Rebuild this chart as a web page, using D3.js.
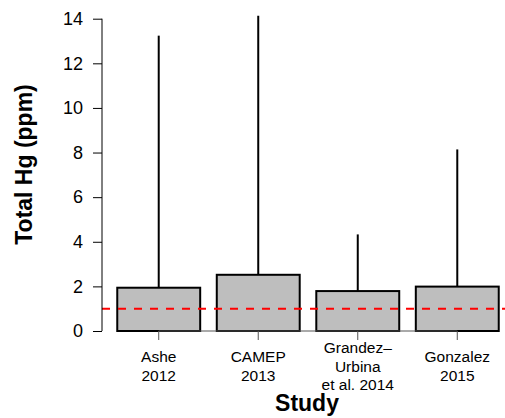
<!DOCTYPE html>
<html><head><meta charset="utf-8">
<script src="https://cdn.jsdelivr.net/npm/d3@7"></script>
<style>body{margin:0;background:#fff}svg{display:block;font-family:"Liberation Sans",Arial,sans-serif}</style>
</head><body><div id="chart"></div>
<script>
const studies = [["Ashe","2012"],["CAMEP","2013"],["Grandez\u2013","Urbina","et al. 2014"],["Gonzalez","2015"]];
const means = [1.94, 2.52, 1.79, 1.99];
const uppers = [13.24, 14.13, 4.33, 8.14];
const yTicks = [0,2,4,6,8,10,12,14];
const refLevel = 1;

const W=505,H=418;
const svg=d3.select("#chart").append("svg").attr("width",W).attr("height",H);
const x=d3.scaleLinear().domain([0.016,4.984]).range([102,514]);
const y=d3.scaleLinear().domain([0,14]).range([331,18.7]);
const left=i=>0.2+1.2*i, mid=i=>0.7+1.2*i;

// error lines
svg.selectAll("line.err").data(means).enter().append("line")
 .attr("x1",(d,i)=>x(mid(i))).attr("x2",(d,i)=>x(mid(i)))
 .attr("y1",d=>y(d)).attr("y2",(d,i)=>y(uppers[i]))
 .attr("stroke","#000").attr("stroke-width",2);
// bars
svg.selectAll("rect.bar").data(means).enter().append("rect")
 .attr("x",(d,i)=>x(left(i))).attr("width",(d,i)=>x(left(i)+1)-x(left(i)))
 .attr("y",d=>y(d)).attr("height",d=>y(0)-y(d))
 .attr("fill","#bebebe").attr("stroke","#000").attr("stroke-width",2);
// reference line
svg.append("line").attr("x1",x(0.016)).attr("x2",W).attr("y1",y(refLevel)).attr("y2",y(refLevel))
 .attr("stroke","#ff0000").attr("stroke-width",2).attr("stroke-dasharray","8,8");

// y axis
const ya=svg.append("g").attr("transform","translate(102,0)")
 .call(d3.axisLeft(y).tickValues(yTicks).tickSize(9).tickPadding(10).tickFormat(d3.format("d")));
ya.select(".domain").attr("stroke","#000").attr("stroke-width",1).attr("d",`M0,${y(0)}V${y(14)}`);
ya.selectAll(".tick line").attr("stroke","#000");
ya.selectAll(".tick text").attr("font-size",18).attr("fill","#000").attr("font-family","Liberation Sans, Arial, sans-serif");

// x axis
const xa=svg.append("g");
xa.append("line").attr("x1",x(mid(0))).attr("x2",x(mid(3))).attr("y1",331).attr("y2",331).attr("stroke","#555").attr("stroke-width",1);
xa.selectAll("line.t").data(studies).enter().append("line")
 .attr("x1",(d,i)=>x(mid(i))).attr("x2",(d,i)=>x(mid(i))).attr("y1",331).attr("y2",340).attr("stroke","#555");
studies.forEach((lines,i)=>{
  const n=lines.length, lh=18.7, cy=366;
  const t=xa.append("text").attr("text-anchor","middle").attr("font-size",15.5).attr("fill","#000");
  lines.forEach((s,j)=>{
    t.append("tspan").attr("x",x(mid(i))).attr("y",cy+(j-(n-1)/2)*lh).attr("dominant-baseline","central").text(s);
  });
});

svg.append("text").attr("x",307).attr("y",411).attr("text-anchor","middle").attr("font-size",23).attr("font-weight","bold").text("Study");
svg.append("text").attr("transform","translate(32,164.5) rotate(-90)").attr("text-anchor","middle").attr("font-size",23).attr("font-weight","bold").text("Total Hg (ppm)");
</script></body></html>
